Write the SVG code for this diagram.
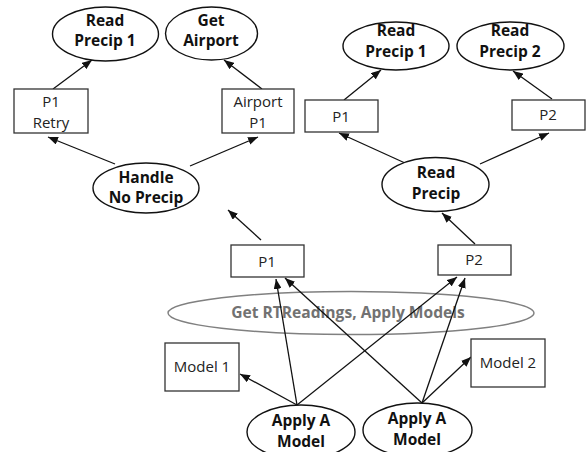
<svg xmlns="http://www.w3.org/2000/svg" width="588" height="452" viewBox="0 0 588 452">
  <style>
    .bg { fill: #ffffff; }
    .oval { fill: #ffffff; stroke: #111111; stroke-width: 1.4; }
    .box { fill: #ffffff; stroke: #333333; stroke-width: 1.3; }
    .group { fill: none; stroke: #808080; stroke-width: 1.4; }
    .bold { font-family: "Open Sans", "Liberation Sans", sans-serif; font-weight: bold; font-size: 15.5px; fill: #111111; text-anchor: middle; }
    .reg { font-family: "Open Sans", "Liberation Sans", sans-serif; font-size: 15px; fill: #222222; text-anchor: middle; }
    .grp { font-family: "Open Sans", "Liberation Sans", sans-serif; font-weight: bold; font-size: 15.6px; fill: #727272; text-anchor: middle; }
    .edge { stroke: #111111; stroke-width: 1.3; fill: none; marker-end: url(#head); }
  </style>
  <defs>
    <marker id="head" viewBox="0 0 10 8" refX="10" refY="4" markerWidth="10" markerHeight="8" markerUnits="userSpaceOnUse" orient="auto">
      <path d="M0,0 L10,4 L0,8 z" fill="#111111"/>
    </marker>
  </defs>
  <rect class="bg" x="0" y="0" width="588" height="452"/>

  <!-- grouping ellipse behind the lower arrows -->
  <g id="get-rt-readings">
    <ellipse class="group" cx="351" cy="313" rx="183" ry="21.5"/>
    <text class="grp" x="348" y="318">Get RTReadings, Apply Models</text>
  </g>

  <g id="connectors">
    <line class="edge" x1="53" y1="89" x2="92" y2="60"/>
    <line class="edge" x1="262" y1="89" x2="224" y2="60"/>
    <line class="edge" x1="115" y1="164" x2="48" y2="137"/>
    <line class="edge" x1="190" y1="166" x2="258" y2="137"/>
    <line class="edge" x1="261" y1="240" x2="228" y2="210"/>
    <line class="edge" x1="344" y1="100" x2="381" y2="70"/>
    <line class="edge" x1="552" y1="99" x2="513" y2="71"/>
    <line class="edge" x1="405" y1="163" x2="339" y2="133"/>
    <line class="edge" x1="480" y1="164" x2="549" y2="133"/>
    <line class="edge" x1="475" y1="244" x2="442" y2="213"/>
    <line class="edge" x1="297" y1="405" x2="240" y2="374"/>
    <line class="edge" x1="297" y1="405" x2="276" y2="279"/>
    <line class="edge" x1="297" y1="405" x2="457" y2="277"/>
    <line class="edge" x1="422" y1="403" x2="285" y2="278"/>
    <line class="edge" x1="422" y1="403" x2="465" y2="278"/>
    <line class="edge" x1="422" y1="403" x2="471" y2="357"/>
  </g>

  <!-- left cluster -->
  <g id="read-precip-1-a">
    <ellipse class="oval" cx="105.5" cy="34" rx="53" ry="27"/>
    <text class="bold" x="105" y="26">Read</text>
    <text class="bold" x="105" y="46">Precip 1</text>
  </g>
  <g id="get-airport">
    <ellipse class="oval" cx="211.5" cy="33.5" rx="46" ry="26.5"/>
    <text class="bold" x="211" y="26">Get</text>
    <text class="bold" x="211" y="46">Airport</text>
  </g>
  <g id="p1-retry">
    <rect class="box" x="14" y="89" width="74" height="44"/>
    <text class="reg" x="51" y="107">P1</text>
    <text class="reg" x="51" y="128">Retry</text>
  </g>
  <g id="airport-p1">
    <rect class="box" x="222" y="89" width="72" height="44"/>
    <text class="reg" x="258" y="107">Airport</text>
    <text class="reg" x="258" y="128">P1</text>
  </g>
  <g id="handle-no-precip">
    <ellipse class="oval" cx="146" cy="188" rx="53" ry="25"/>
    <text class="bold" x="146" y="183">Handle</text>
    <text class="bold" x="146" y="203">No Precip</text>
  </g>

  <!-- right cluster -->
  <g id="read-precip-1-b">
    <ellipse class="oval" cx="396" cy="46" rx="53" ry="24"/>
    <text class="bold" x="396" y="36">Read</text>
    <text class="bold" x="396" y="57">Precip 1</text>
  </g>
  <g id="read-precip-2">
    <ellipse class="oval" cx="510.5" cy="46" rx="53.5" ry="24"/>
    <text class="bold" x="510" y="36">Read</text>
    <text class="bold" x="510" y="57">Precip 2</text>
  </g>
  <g id="p1-right">
    <rect class="box" x="305" y="100" width="73" height="32"/>
    <text class="reg" x="341" y="122">P1</text>
  </g>
  <g id="p2-right">
    <rect class="box" x="512" y="100" width="73" height="30"/>
    <text class="reg" x="548" y="120">P2</text>
  </g>
  <g id="read-precip">
    <ellipse class="oval" cx="435.5" cy="184.5" rx="53.5" ry="27"/>
    <text class="bold" x="436" y="178">Read</text>
    <text class="bold" x="436" y="199">Precip</text>
  </g>

  <!-- lower cluster -->
  <g id="p1-low">
    <rect class="box" x="231" y="245" width="73" height="32"/>
    <text class="reg" x="267" y="267">P1</text>
  </g>
  <g id="p2-low">
    <rect class="box" x="438" y="245" width="73" height="30"/>
    <text class="reg" x="474" y="265">P2</text>
  </g>
  <g id="model-1">
    <rect class="box" x="165" y="343" width="74" height="48"/>
    <text class="reg" x="202" y="372">Model 1</text>
  </g>
  <g id="model-2">
    <rect class="box" x="471" y="339" width="74" height="48"/>
    <text class="reg" x="508" y="368">Model 2</text>
  </g>
  <g id="apply-a-model-1">
    <ellipse class="oval" cx="301" cy="432" rx="54" ry="27"/>
    <text class="bold" x="301" y="426">Apply A</text>
    <text class="bold" x="301" y="446.5">Model</text>
  </g>
  <g id="apply-a-model-2">
    <ellipse class="oval" cx="417.5" cy="430" rx="54.5" ry="27"/>
    <text class="bold" x="417" y="424">Apply A</text>
    <text class="bold" x="417" y="444.5">Model</text>
  </g>
</svg>
